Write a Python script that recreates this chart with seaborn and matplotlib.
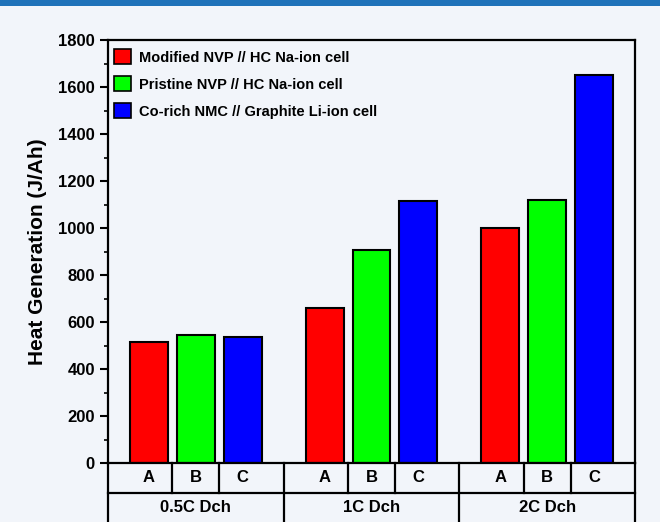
import numpy as np
import pandas as pd
import matplotlib
matplotlib.use("Agg")
import matplotlib.pyplot as plt
import matplotlib.transforms as mtransforms
from matplotlib.patches import Rectangle
from matplotlib.ticker import MultipleLocator
import seaborn as sns

# ---- data -------------------------------------------------------------
rates = ["0.5C Dch", "1C Dch", "2C Dch"]
cells = [
    "Modified NVP // HC Na-ion cell",
    "Pristine NVP // HC Na-ion cell",
    "Co-rich NMC // Graphite Li-ion cell",
]
cell_codes = ["A", "B", "C"]
modified_nvp = [515, 660, 1000]
pristine_nvp = [545, 905, 1120]
co_rich_nmc = [535, 1115, 1650]
y_ticks = [0, 200, 400, 600, 800, 1000, 1200, 1400, 1600, 1800]

colors = ["#ff0000", "#00ff00", "#0000ff"]
bg = "#f2f5fa"

df = pd.DataFrame({
    "rate": rates * 3,
    "cell": [cells[0]] * 3 + [cells[1]] * 3 + [cells[2]] * 3,
    "heat": modified_nvp + pristine_nvp + co_rich_nmc,
})

sns.set_style("ticks")
plt.rcParams["font.family"] = ["Liberation Sans", "DejaVu Sans"]
plt.rcParams["font.weight"] = "bold"
plt.rcParams["text.color"] = "black"
plt.rcParams["axes.labelcolor"] = "black"
plt.rcParams["xtick.color"] = "black"
plt.rcParams["ytick.color"] = "black"

W, H = 660, 522
fig = plt.figure(figsize=(W / 100, H / 100), dpi=100, facecolor=bg)
fig.patches.append(Rectangle((0, 1 - 6 / H), 1, 6 / H, transform=fig.transFigure,
                             facecolor="#1f72b9", edgecolor="none", zorder=10))

ax_l, ax_r, ax_t, ax_b = 108, 635, 40, 463
ax = fig.add_axes([ax_l / W, (H - ax_b) / H, (ax_r - ax_l) / W, (ax_b - ax_t) / H])
ax.set_facecolor(bg)

sns.barplot(data=df, x="rate", y="heat", hue="cell", order=rates, hue_order=cells,
            palette=colors, width=0.8, gap=0.19, edgecolor="black", linewidth=1.5,
            errorbar=None, saturation=1, ax=ax)

ax.set_ylim(0, 1800)
ax.set_xlim(-0.5, 2.5)
ax.set_yticks(y_ticks)
ax.yaxis.set_minor_locator(MultipleLocator(100))
ax.set_xticks([])
ax.set_xlabel("")
ax.set_ylabel("Heat Generation (J/Ah)", fontsize=15, fontweight="bold", color="black")
ax.yaxis.set_label_coords(-0.115, 0.5)
for lab in ax.get_yticklabels():
    lab.set_fontweight("bold")
    lab.set_color("black")
ax.tick_params(axis="y", which="major", direction="out", length=5.5, width=1.5,
               labelsize=12, pad=4, colors="black")
ax.tick_params(axis="y", which="minor", direction="out", length=3, width=1.2,
               colors="black")
for sp in ax.spines.values():
    sp.set_visible(True)
    sp.set_linewidth(1.6)
    sp.set_color("black")

# legend
handles, labels = ax.get_legend_handles_labels()
for h, c in zip(handles, colors):
    h.set_facecolor(c)
    h.set_edgecolor("black")
    h.set_linewidth(1.2)
leg = ax.legend(handles, labels, loc="upper left", bbox_to_anchor=(0.011, 0.978),
                frameon=False, prop={"weight": "bold", "size": 10.5},
                handlelength=1.2, handleheight=1.2, handletextpad=0.55,
                labelspacing=0.8, borderpad=0, borderaxespad=0)
for t in leg.get_texts():
    t.set_color("black")

# category table under the axis
trans = mtransforms.blended_transform_factory(ax.transData, ax.transAxes)
ph = ax_b - ax_t
row1 = -30 / ph
bottom = -80 / ph
lw = 1.6
line_kw = dict(color="black", lw=lw, transform=trans, clip_on=False, solid_capstyle="projecting")

centers = []
for cont in ax.containers:
    centers.append([p.get_x() + p.get_width() / 2 for p in cont.patches])
centers = np.array(centers)  # hue x group

for gi, rate in enumerate(rates):
    for hi, code in enumerate(cell_codes):
        ax.text(centers[hi, gi], row1 / 2, code, transform=trans, ha="center",
                va="center", fontsize=12, fontweight="bold", color="black")
    for hi in range(len(cell_codes) - 1):
        xm = (centers[hi, gi] + centers[hi + 1, gi]) / 2
        ax.plot([xm, xm], [0, row1], **line_kw)
    ax.text(gi, -45 / ph, rate, transform=trans, ha="center", va="center",
            fontsize=12, fontweight="bold", color="black")

ax.plot([-0.5, 2.5], [row1, row1], **line_kw)
for xb in np.arange(len(rates) + 1) - 0.5:
    ax.plot([xb, xb], [0, bottom], **line_kw)

fig.savefig("out.png", dpi=100, facecolor=bg)
